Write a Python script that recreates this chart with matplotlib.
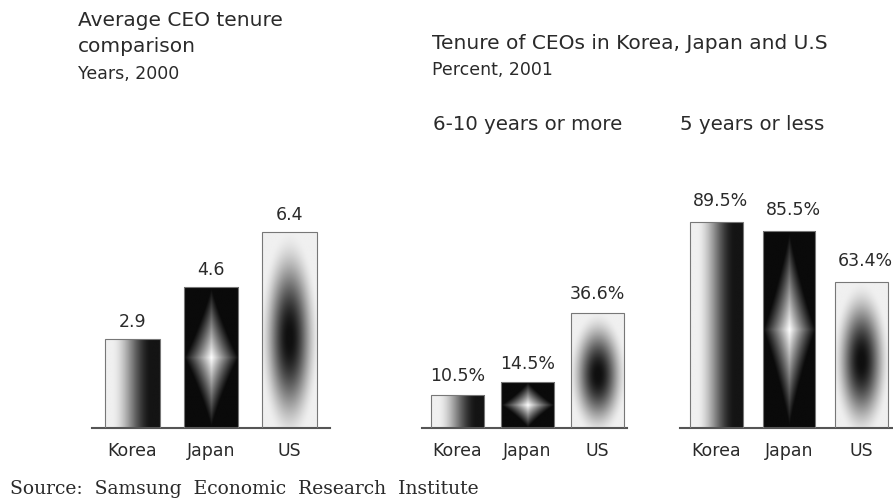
"""CEO tenure comparison: Korea / Japan / US, three small gradient-bar panels."""
import numpy as np
import matplotlib
matplotlib.use("Agg")
import matplotlib.pyplot as plt  # noqa: E402

W, H = 893, 504
TXT = "#2a2a2a"

countries = ["Korea", "Japan", "US"]
avg_tenure = [2.9, 4.6, 6.4]            # years, 2000
long_tenure = [10.5, 14.5, 36.6]        # % with 6-10 years or more, 2001
short_tenure = [89.5, 85.5, 63.4]       # % with 5 years or less, 2001
avg_labels = ["2.9", "4.6", "6.4"]
long_labels = ["10.5%", "14.5%", "36.6%"]
short_labels = ["89.5%", "85.5%", "63.4%"]

plt.rcParams["font.family"] = ["DejaVu Sans"]


def px_axes(fig, left, right, top, bottom):
    return fig.add_axes([left / W, 1 - bottom / H, (right - left) / W, (bottom - top) / H])


def smooth(a, b, x):
    t = np.clip((x - a) / (b - a), 0, 1)
    return t * t * (3 - 2 * t)


def shade(kind, n=200):
    u, v = np.meshgrid(np.linspace(0, 1, n), np.linspace(0, 1, n))
    dx, dy = np.abs(u - 0.5) / 0.5, np.abs(v - 0.5) / 0.5
    if kind == 0:   # light on the left, dark on the right
        return 0.08 + 0.86 * (1 - smooth(0.12, 0.85, u))
    if kind == 1:   # black with a white star in the middle
        p = 0.9
        d = (dx ** p + dy ** p) ** (1 / p)
        return 0.04 + 0.96 * np.clip(1 - d, 0, 1) ** 1.1
    # light with a dark oval centre
    r = np.sqrt((dx / 1.1) ** 2 + ((v - 0.46) / 0.55) ** 2)
    return 0.06 + 0.88 * smooth(0.05, 1.0, r)


def panel(ax, values, labels, width, ymax, xlim, lab_off):
    x = np.arange(len(values))
    bars = ax.bar(x, values, width, facecolor="none", edgecolor="#777777", lw=0.8, zorder=3)
    for i, b in enumerate(bars):
        x0, y0 = b.get_x(), b.get_y()
        im = ax.imshow(shade(i), cmap="gray", vmin=0, vmax=1, origin="lower",
                       extent=[x0, x0 + b.get_width(), y0, y0 + b.get_height()],
                       aspect="auto", interpolation="bilinear", zorder=2)
        im.set_clip_path(b)
        ax.annotate(labels[i], (x[i], values[i]), xytext=(lab_off[0], lab_off[1]),
                    textcoords="offset points", ha="center", va="bottom",
                    fontsize=12.5, color=TXT)
    ax.set_xlim(*xlim)
    ax.set_ylim(0, ymax)
    ax.set_xticks(x)
    ax.set_xticklabels(countries, fontsize=12.5, color=TXT)
    ax.tick_params(axis="x", length=0, pad=10)
    ax.set_yticks([])
    for s in ("left", "right", "top"):
        ax.spines[s].set_visible(False)
    ax.spines["bottom"].set_color("#555555")
    ax.spines["bottom"].set_linewidth(1.5)
    ax.patch.set_alpha(0)


fig = plt.figure(figsize=(W / 100, H / 100), dpi=100)

ax1 = px_axes(fig, 92, 330, 200, 428)
panel(ax1, avg_tenure, avg_labels, 0.70, 228 / 30.6, (-0.516, 2.516), (0, 6))

ax2 = px_axes(fig, 422, 627, 200, 428)
panel(ax2, long_tenure, long_labels, 0.76, 228 / 3.15, (-0.509, 2.43), (0, 7))

ax3 = px_axes(fig, 680, 893, 150, 428)
panel(ax3, short_tenure, short_labels, 0.73, 278 / 2.3, (-0.503, 2.434), (3, 9))


def ftext(x, y, s, size, **kw):
    fig.text(x / W, 1 - y / H, s, fontsize=size, color=TXT, va="baseline", **kw)


ftext(78, 26, "Average CEO tenure", 14.5)
ftext(78, 52, "comparison", 14.5)
ftext(78, 79, "Years, 2000", 12.5)
ftext(432, 49, "Tenure of CEOs in Korea, Japan and U.S", 14.5)
ftext(432, 75, "Percent, 2001", 12.5)
ftext(433, 130, "6-10 years or more", 14.2)
ftext(680, 130, "5 years or less", 14.2)
ftext(10, 494, "Source:  Samsung  Economic  Research  Institute", 13.5,
      family=["DejaVu Serif"])

fig.savefig("out.png", dpi=100)
